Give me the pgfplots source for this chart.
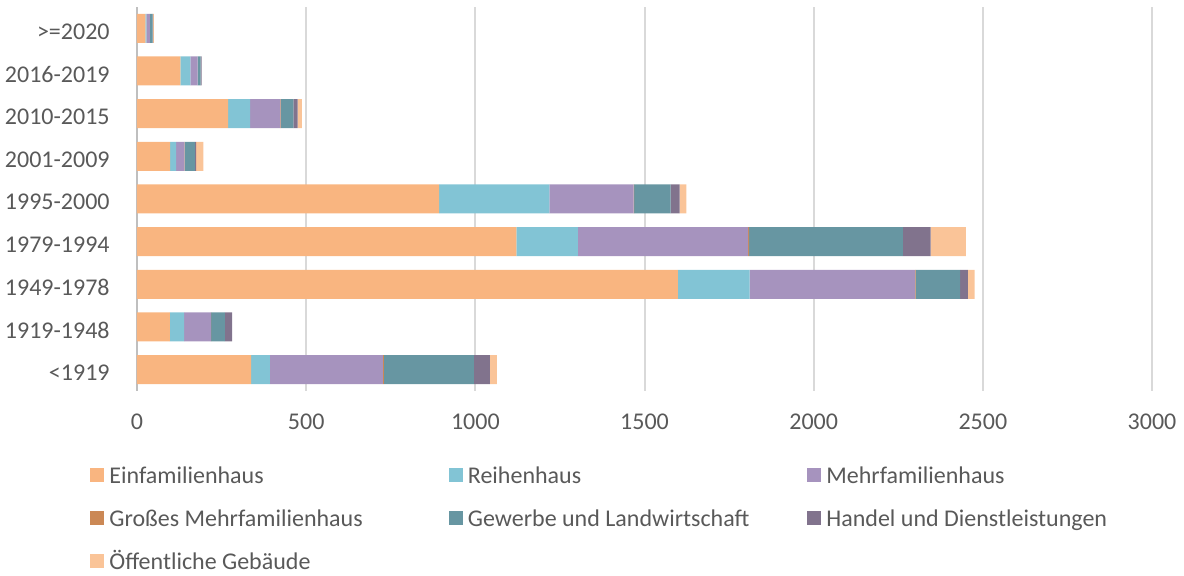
\documentclass[border=0pt]{standalone}
\usepackage{fontspec}
\setmainfont{Carlito}
\usepackage{pgfplots}
\pgfplotsset{compat=1.18}
\definecolor{cE}{RGB}{249,181,128}
\definecolor{cR}{RGB}{130,196,213}
\definecolor{cM}{RGB}{166,147,190}
\definecolor{cG}{RGB}{203,136,85}
\definecolor{cW}{RGB}{103,150,162}
\definecolor{cH}{RGB}{129,115,141}
\definecolor{cO}{RGB}{250,196,152}
\definecolor{gridc}{RGB}{217,217,217}
\definecolor{axisc}{RGB}{191,191,191}
\definecolor{textc}{RGB}{89,89,89}
\newcommand{\lt}[1]{\makebox[169.75pt][l]{\strut #1}}
\begin{document}
\fontsize{12}{14.4}\selectfont
\begin{tikzpicture}
\begin{axis}[
  name=ax, at={(0,0)}, anchor=south west,
  width=507.5pt, height=192pt, scale only axis,
  xbar stacked, bar width=0.68,
  xmin=0, xmax=3000, ymin=-0.5, ymax=8.5,
  xtick={0,500,1000,1500,2000,2500,3000},
  ytick={0,1,2,3,4,5,6,7,8},
  yticklabels={{<1919},{1919-1948},{1949-1978},{1979-1994},{1995-2000},{2001-2009},{2010-2015},{2016-2019},{\textgreater{}\kern0pt=2020}},
  /pgf/number format/assume math mode=true,
  /pgf/number format/1000 sep={},
  xmajorgrids, grid style={draw=gridc, line width=1pt},
  axis x line*=bottom, axis y line*=left,
  x axis line style={draw=none},
  y axis line style={draw=axisc, line width=1pt},
  major tick length=0pt, tick style={draw=none},
  ticklabel style={text=textc},
  xticklabel style={yshift=-7.5pt},
  yticklabel style={xshift=-9.5pt, yshift=-1.5pt},
  legend columns=3,
  legend cell align=left,
  legend image code/.code={\fill[#1] (0pt,-3.3pt) rectangle (7pt,3.7pt);},
  legend style={draw=none, fill=none, at={(0,0)}, anchor=north west,
    xshift=-23.5pt, yshift=-36pt, inner sep=0pt, row sep=9.7pt,
    nodes={inner sep=0pt, text=textc},
    /tikz/every odd column/.append style={column sep=2.5pt}},
]
% y: 0=<1919,1=1919-1948,2=1949-1978,3=1979-1994,4=1995-2000,5=2001-2009,6=2010-2015,7=2016-2019,8=>=2020
\addplot[fill=cE, draw=none] coordinates {(337,0) (97,1) (1599,2) (1121,3) (893,4) (98,5) (269,6) (128,7) (25,8)};
\addlegendentry{\lt{Einfamilienhaus}}
\addplot[fill=cR, draw=none] coordinates {(56,0) (42,1) (212,2) (182,3) (326,4) (18,5) (65,6) (30,7) (3,8)};
\addlegendentry{\lt{Reihenhaus}}
\addplot[fill=cM, draw=none] coordinates {(334,0) (79,1) (489,2) (503,3) (249,4) (24,5) (90,6) (21,7) (10,8)};
\addlegendentry{\lt{Mehrfamilienhaus}}
\addplot[fill=cG, draw=none] coordinates {(3,0) (1,1) (1,2) (3,3) (1,4) (1,5) (1,6) (0,7) (0,8)};
\addlegendentry{\lt{Großes Mehrfamilienhaus}}
\addplot[fill=cW, draw=none] coordinates {(266,0) (41,1) (132,2) (455,3) (108,4) (30,5) (37,6) (9,7) (8,8)};
\addlegendentry{\lt{Gewerbe und Landwirtschaft}}
\addplot[fill=cH, draw=none] coordinates {(47,0) (21,1) (23,2) (82,3) (27,4) (4,5) (13,6) (3,7) (2,8)};
\addlegendentry{\lt{Handel und Dienstleistungen}}
\addplot[fill=cO, draw=none] coordinates {(21,0) (0,1) (20,2) (104,3) (20,4) (21,5) (12,6) (0,7) (2,8)};
\addlegendentry{\lt{Öffentliche Gebäude}}
\end{axis}
\pgfresetboundingbox
\useasboundingbox (-68.5pt,-92.5pt) rectangle (523.5pt,195.5pt);
\end{tikzpicture}
\end{document}
